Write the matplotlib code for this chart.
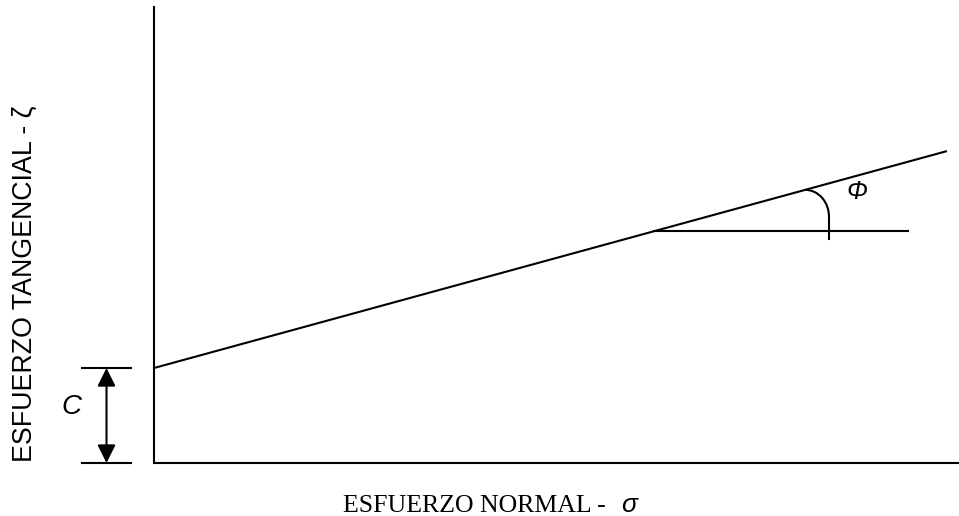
import numpy as np
import matplotlib
matplotlib.use("Agg")
import matplotlib.pyplot as plt
from matplotlib.patches import Arc, FancyArrowPatch

# Mohr-Coulomb envelope: tau = c + sigma * tan(phi)  (arbitrary units)
sigma_range = [0.0, 100.0]
tau_range = [0.0, 56.65]
cohesion = 11.8
tan_phi = 0.2736
envelope_sigma = [0.0, 98.5]
reference_sigma = [62.1, 93.7]      # horizontal reference for the friction angle
angle_marker_sigma = 80.9           # where the angle arc meets the envelope
angle_marker_radius = [2.95, 3.35]  # arc half-width / half-height
angle_marker_bottom = 27.8
bracket_sigma = [-8.94, -2.86]
arrow_sigma = -5.9

x_label = "ESFUERZO NORMAL - "
x_symbol = "σ"
y_label = "ESFUERZO TANGENCIAL - ζ"
c_label = "C"
phi_label = "Φ"

LW = 1.5
fig = plt.figure(figsize=(9.59, 5.16), dpi=100)
ax = fig.add_axes([154 / 959, 53 / 516, 805 / 959, 456 / 516])
ax.set_xlim(*sigma_range)
ax.set_ylim(*tau_range)
for s in ("top", "right"):
    ax.spines[s].set_visible(False)
for s in ("left", "bottom"):
    ax.spines[s].set_linewidth(LW)
ax.set_xticks([])
ax.set_yticks([])

# failure envelope
es = np.array(envelope_sigma)
ax.plot(es, cohesion + tan_phi * es, color="black", lw=LW, solid_capstyle="butt")

# horizontal reference line from the envelope
ref_tau = cohesion + tan_phi * reference_sigma[0]
ax.plot(reference_sigma, [ref_tau, ref_tau], color="black", lw=LW)

# friction-angle arc
top_tau = cohesion + tan_phi * angle_marker_sigma
rx, ry = angle_marker_radius
ax.add_patch(Arc((angle_marker_sigma, top_tau - ry), 2 * rx, 2 * ry,
                 theta1=0, theta2=90, color="black", lw=LW))
ax.plot([angle_marker_sigma + rx, angle_marker_sigma + rx],
        [top_tau - ry, angle_marker_bottom], color="black", lw=LW)

# cohesion bracket
for t in (0.0, cohesion):
    ax.plot(bracket_sigma, [t, t], color="black", lw=LW, clip_on=False)
arr = FancyArrowPatch((arrow_sigma, 0.0), (arrow_sigma, cohesion),
                      arrowstyle="<|-|>,head_length=1.1,head_width=0.55",
                      mutation_scale=10, color="black", lw=LW,
                      shrinkA=0, shrinkB=0, clip_on=False)
ax.add_patch(arr)

fig.text(71 / 959, 1 - 407 / 516, c_label, fontsize=20, style="italic",
         family="Liberation Sans", ha="center", va="center")
fig.text(857 / 959, 1 - 192 / 516, phi_label, fontsize=18, style="italic",
         family="Liberation Sans", ha="center", va="center")

fig.text(25 / 959, 1 - 284 / 516, y_label, fontsize=19.3, rotation=90,
         family="Liberation Sans", ha="center", va="center")

fig.text(343 / 959, 4 / 516, x_label, fontsize=18.6,
         family="Liberation Serif", ha="left", va="baseline")
fig.text(621 / 959, 4 / 516, x_symbol, fontsize=19, style="italic",
         family="Liberation Sans", ha="left", va="baseline")

fig.savefig("out.png", dpi=100)
